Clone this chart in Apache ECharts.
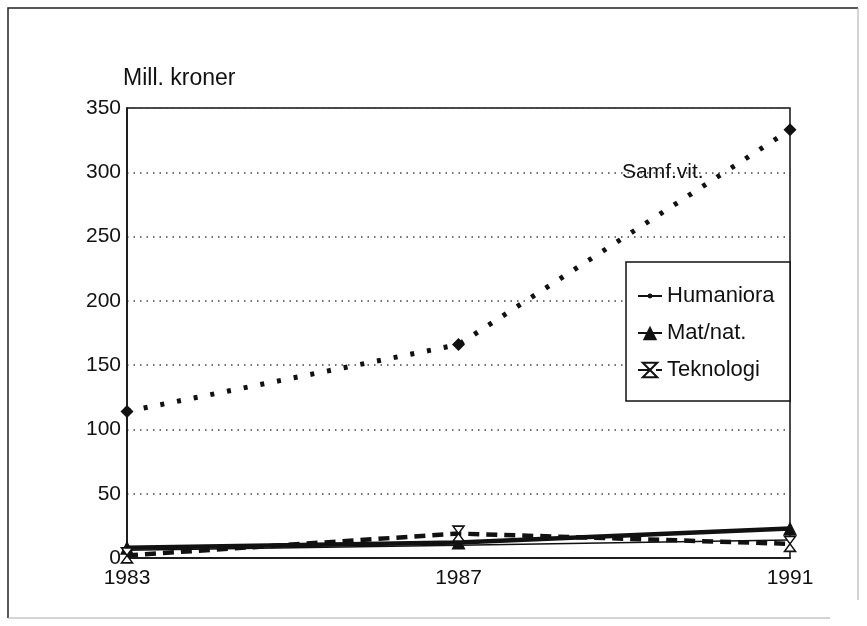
<!DOCTYPE html>
<html>
<head>
<meta charset="utf-8">
<script src="https://cdn.jsdelivr.net/npm/echarts@6/dist/echarts.min.js"></script>
<style>
  html, body { margin: 0; padding: 0; background: #fff; }
  #chart { width: 867px; height: 626px; }
</style>
</head>
<body>
<div id="chart"></div>
<script>
// Research funding by field, million NOK
const years = ['1983', '1987', '1991'];
const humaniora = [6, 10, 14];
const matNat = [8, 12, 23];
const teknologi = [2, 19, 11];
const samfVit = [114, 166, 333];
const yTicks = { min: 0, max: 350, step: 50 };

const FONT = "'Liberation Sans', Arial, Helvetica, sans-serif";
const INK = '#111';

// Small dot padded inside a larger box so it stays small in the legend too
const dotSymbol = 'path://M0,0M12,12M4,6a2,2,0,1,0,4,0a2,2,0,1,0,-4,0Z';
// Hourglass: downward triangle over upward triangle
const hourglass = 'path://M0,0L10,0L5,7ZM5,7L10,14L0,14Z';

const chart = echarts.init(document.getElementById('chart'), null, { renderer: 'canvas' });

chart.setOption({
  backgroundColor: '#fff',
  animation: false,
  textStyle: { fontFamily: FONT, color: INK },
  grid: {
    left: 127, top: 108, width: 663, height: 450,
    show: true, borderColor: INK, borderWidth: 1.5, backgroundColor: 'transparent'
  },
  xAxis: {
    type: 'category',
    data: years,
    boundaryGap: false,
    axisLine: { lineStyle: { color: INK, width: 1.5 } },
    axisTick: { show: false },
    axisLabel: { color: INK, fontSize: 21, fontFamily: FONT, margin: 10 },
    splitLine: { show: false }
  },
  yAxis: {
    type: 'value',
    min: yTicks.min, max: yTicks.max, interval: yTicks.step,
    name: 'Mill. kroner',
    nameLocation: 'end',
    nameGap: 18,
    nameTextStyle: { color: INK, fontSize: 23, fontFamily: FONT, align: 'left', padding: [0, 0, 0, -4] },
    axisLine: { show: true, lineStyle: { color: INK, width: 1.5 } },
    axisTick: { show: false },
    axisLabel: { color: INK, fontSize: 21, fontFamily: FONT, margin: 6 },
    splitLine: { show: true, lineStyle: { color: '#444', width: 1.5, type: [1.5, 5] } }
  },
  legend: {
    orient: 'vertical',
    left: 637, top: 285,
    padding: 0,
    z: 10,
    itemWidth: 24, itemHeight: 18, itemGap: 15,
    textStyle: { color: INK, fontSize: 22, fontFamily: FONT },
    data: ['Humaniora', 'Mat/nat.', 'Teknologi']
  },
  graphic: [
    // page frame
    { type: 'polyline', silent: true, shape: { points: [[8, 618], [8, 8], [858, 8]] },
      style: { stroke: '#222', lineWidth: 1.5, fill: null } },
    { type: 'polyline', silent: true, shape: { points: [[858, 8], [858, 600]] },
      style: { stroke: '#aaa', lineWidth: 1, fill: null } },
    { type: 'polyline', silent: true, shape: { points: [[8, 618], [830, 618]] },
      style: { stroke: '#aaa', lineWidth: 1, fill: null } },
    // legend box
    { type: 'rect', silent: true, z: 2, shape: { x: 626, y: 262, width: 164, height: 139 },
      style: { fill: '#fff', stroke: INK, lineWidth: 1.5 } },
    // label for the social sciences curve
    { type: 'text', silent: true, z: 5, x: 622, y: 172,
      style: { text: 'Samf.vit.', fontSize: 21, fontFamily: FONT, fill: INK,
               textVerticalAlign: 'middle', verticalAlign: 'middle' } }
  ],
  series: [
    {
      name: 'Samf.vit.',
      type: 'line',
      data: samfVit,
      symbol: 'diamond',
      symbolSize: 13,
      itemStyle: { color: INK },
      lineStyle: { color: INK, width: 5, type: [4, 13] },
      z: 3
    },
    {
      name: 'Humaniora',
      type: 'line',
      data: humaniora,
      symbol: dotSymbol,
      symbolSize: 14,
      itemStyle: { color: INK },
      lineStyle: { color: INK, width: 1.5 },
      z: 3
    },
    {
      name: 'Mat/nat.',
      type: 'line',
      data: matNat,
      symbol: 'triangle',
      symbolSize: 14,
      itemStyle: { color: INK },
      lineStyle: { color: INK, width: 4.5 },
      z: 3
    },
    {
      name: 'Teknologi',
      type: 'line',
      data: teknologi,
      symbol: hourglass,
      symbolSize: [11, 15],
      itemStyle: { color: '#fff', borderColor: INK, borderWidth: 1.5 },
      lineStyle: { color: INK, width: 4.5, type: [11, 7] },
      z: 4
    }
  ]
});
</script>
</body>
</html>
